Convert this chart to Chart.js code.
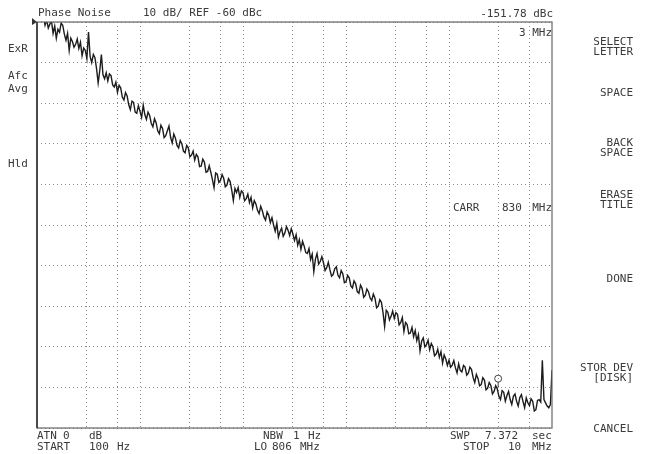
<!DOCTYPE html>
<html>
<head>
<meta charset="utf-8">
<script src="https://cdn.jsdelivr.net/npm/chart.js@4/dist/chart.umd.min.js"></script>
<style>
  html, body { margin: 0; padding: 0; background: #ffffff; }
  canvas { display: block; }
</style>
</head>
<body>
<canvas id="pnChart" width="645" height="454"></canvas>
<script>
// analyzer sweep: 64 log-spaced points per decade, 100 Hz .. 10 MHz
const decadeStartHz = [100, 1000, 10000, 100000, 1000000];
const sweepMantissa = [
  1.000, 1.037, 1.075, 1.114, 1.155, 1.197, 1.241, 1.287, 1.334, 1.383, 1.433, 1.486, 1.540, 1.596, 1.655, 1.715,
  1.778, 1.843, 1.911, 1.981, 2.054, 2.129, 2.207, 2.288, 2.371, 2.458, 2.548, 2.642, 2.738, 2.839, 2.943, 3.051,
  3.162, 3.278, 3.398, 3.523, 3.652, 3.786, 3.924, 4.068, 4.217, 4.372, 4.532, 4.698, 4.870, 5.048, 5.233, 5.425,
  5.623, 5.829, 6.043, 6.264, 6.494, 6.732, 6.978, 7.234, 7.499, 7.774, 8.058, 8.354, 8.660, 8.977, 9.306, 9.647
];
const stopHz = 10000000;

// phase noise (dBc/Hz), one row per decade
const noiseDbc100Hz = [
  -56.0, -58.0, -57.5, -59.0, -58.5, -60.8, -59.5, -61.5, -60.5, -59.8, -62.8, -61.0, -64.0, -61.8, -62.5, -60.3,
  -60.8, -63.0, -64.5, -62.8, -67.0, -64.0, -64.8, -66.2, -65.5, -64.2, -66.5, -65.0, -68.3, -66.4, -67.0, -69.0,
  -62.5, -68.5, -70.0, -68.0, -68.8, -71.5, -75.0, -72.0, -68.0, -73.0, -74.0, -72.5, -74.5, -72.8, -73.2, -75.5,
  -76.0, -74.8, -77.3, -75.6, -76.2, -78.5, -79.2, -77.4, -78.2, -80.4, -81.6, -79.5, -79.8, -82.2, -82.5, -80.6
];
const noiseDbc1kHz = [
  -82.0, -83.5, -80.5, -82.8, -84.0, -82.2, -83.0, -85.0, -85.8, -83.8, -84.8, -86.8, -87.5, -85.4, -86.2, -88.5,
  -88.0, -86.8, -85.6, -88.4, -89.8, -87.6, -88.6, -90.4, -91.0, -89.2, -90.0, -91.8, -92.2, -90.4, -91.0, -93.2,
  -92.8, -91.8, -94.0, -92.6, -93.2, -95.6, -95.5, -93.8, -94.5, -97.0, -96.8, -95.4, -97.0, -98.8, -100.8, -97.2,
  -97.5, -99.5, -99.0, -97.6, -98.5, -100.6, -100.2, -98.6, -99.3, -101.4, -104.0, -101.0, -102.0, -100.8, -103.2, -101.6
];
const noiseDbc10kHz = [
  -102.0, -104.0, -103.5, -102.4, -104.5, -103.2, -105.8, -104.0, -104.8, -106.4, -107.2, -105.4, -106.5, -108.0, -108.8, -106.8,
  -107.6, -109.4, -108.2, -110.0, -111.5, -109.6, -113.0, -111.6, -110.8, -112.8, -112.0, -110.4, -111.3, -112.6, -110.9, -112.2,
  -113.8, -112.4, -115.0, -113.6, -116.0, -114.0, -115.2, -116.8, -117.0, -115.8, -118.5, -117.2, -121.5, -118.4, -117.0, -119.6,
  -119.0, -117.8, -119.3, -121.2, -120.5, -119.2, -121.0, -122.6, -122.2, -120.8, -120.3, -122.4, -123.0, -121.2, -122.0, -124.2
];
const noiseDbc100kHz = [
  -124.0, -122.4, -123.0, -125.0, -125.5, -123.8, -124.5, -126.4, -126.8, -124.8, -125.6, -127.8, -127.3, -125.8, -126.5, -128.0,
  -128.6, -127.0, -128.0, -130.4, -130.0, -128.4, -129.0, -131.6, -135.0, -131.0, -131.5, -133.4, -132.5, -131.2, -133.0, -131.6,
  -132.0, -134.6, -134.0, -132.8, -136.2, -134.0, -134.5, -136.8, -136.6, -135.2, -137.5, -136.0, -138.5, -137.0, -141.0, -138.6,
  -137.8, -140.0, -139.5, -138.4, -140.7, -139.2, -140.0, -142.2, -141.8, -140.6, -142.6, -141.2, -144.0, -142.0, -143.0, -144.6
];
const noiseDbc1MHz = [
  -143.3, -145.0, -144.5, -143.4, -145.2, -146.4, -144.2, -145.8, -146.2, -144.6, -145.0, -147.0, -146.5, -145.0, -145.6, -147.6,
  -148.8, -146.8, -147.8, -149.6, -149.3, -147.6, -148.2, -150.6, -150.2, -148.8, -149.5, -151.6, -151.0, -149.6, -150.4, -152.2,
  -153.0, -150.8, -151.2, -153.4, -152.0, -151.0, -153.0, -154.2, -152.2, -151.6, -153.4, -154.6, -152.5, -151.8, -153.5, -155.0,
  -152.6, -153.8, -154.5, -152.8, -153.4, -155.8, -155.5, -153.2, -153.0, -153.6, -143.3, -153.0, -153.8, -154.6, -155.0, -154.2
];
const noiseDbcStop = -145.7;

// vertical grid positions and screen range
const gridHz = [300, 600, 1000, 3000, 6000, 10000, 30000, 60000, 100000, 300000, 600000, 1000000, 3000000, 6000000];
const refDbc = -60;
const bottomDbc = -160;
const dbPerDiv = 10;

// marker
const markerHz = 3000000;
const markerDbc = -151.78;

const sweepHz = decadeStartHz.flatMap(d => sweepMantissa.map(m => d * m)).concat([stopHz]);
const noiseDbc = [].concat(noiseDbc100Hz, noiseDbc1kHz, noiseDbc10kHz, noiseDbc100kHz, noiseDbc1MHz, [noiseDbcStop]);

const FONT = '11px "DejaVu Sans Mono", monospace';
const INK = '#3a3a3a';

const screenText = {
    id: 'screenText',
    afterDraw(chart) {
        const ctx = chart.ctx;
        const a = chart.chartArea;
        const xs = chart.scales.x, ys = chart.scales.y;
        ctx.save();

        // frame
        ctx.strokeStyle = '#666';
        ctx.lineWidth = 1.2;
        ctx.strokeRect(a.left, a.top, a.right - a.left, a.bottom - a.top);
        ctx.strokeStyle = '#4a4a4a';
        ctx.lineWidth = 2;
        ctx.beginPath();
        ctx.moveTo(a.left, a.top); ctx.lineTo(a.left, a.bottom);
        ctx.stroke();

        // reference level arrow
        ctx.fillStyle = '#333';
        ctx.beginPath();
        ctx.moveTo(a.left - 5, a.top - 4);
        ctx.lineTo(a.left, a.top);
        ctx.lineTo(a.left - 5, a.top + 3);
        ctx.closePath();
        ctx.fill();

        // marker circle, sits just above the trace
        const mx = xs.getPixelForValue(markerHz);
        const my = ys.getPixelForValue(markerDbc);
        ctx.strokeStyle = '#444';
        ctx.lineWidth = 1;
        ctx.beginPath();
        ctx.arc(mx, my - 16, 3.5, 0, Math.PI * 2);
        ctx.stroke();
        ctx.beginPath();
        ctx.moveTo(mx, my - 12.5); ctx.lineTo(mx, my - 7);
        ctx.stroke();

        ctx.font = FONT;
        ctx.fillStyle = INK;
        ctx.textBaseline = 'middle';
        const t = (s, x, y, al) => { ctx.textAlign = al || 'left'; ctx.fillText(s, x, y); };

        t('Phase Noise', 38, 13);
        t('10 dB/ REF ' + refDbc + ' dBc', 143, 13);
        t(markerDbc.toFixed(2) + ' dBc', 553, 14, 'right');
        t('3 MHz', 552, 33, 'right');
        t('CARR', 453, 208);
        t('830', 502, 208);
        t('MHz', 552, 208, 'right');

        t('ExR', 8, 49);
        t('Afc', 8, 76);
        t('Avg', 8, 89);
        t('Hld', 8, 164);

        t('ATN', 37, 436); t('0', 63, 436); t('dB', 89, 436);
        t('START', 37, 447); t('100', 89, 447); t('Hz', 117, 447);
        t('NBW', 263, 436); t('1', 293, 436); t('Hz', 308, 436);
        t('LO', 254, 447); t('806', 272, 447); t('MHz', 300, 447);
        t('SWP', 450, 436); t('7.372', 485, 436); t('sec', 532, 436);
        t('STOP', 463, 447); t('10', 508, 447); t('MHz', 532, 447);

        // softkeys
        const kx = 633;
        t('SELECT', kx, 42, 'right'); t('LETTER', kx, 52, 'right');
        t('SPACE', kx, 93, 'right');
        t('BACK', kx, 143, 'right'); t('SPACE', kx, 153, 'right');
        t('ERASE', kx, 195, 'right'); t('TITLE', kx, 205, 'right');
        t('DONE', kx, 279, 'right');
        t('STOR DEV', kx, 368, 'right'); t('[DISK]', kx, 378, 'right');
        t('CANCEL', kx, 429, 'right');
        ctx.restore();
    }
};

const ctx = document.getElementById('pnChart').getContext('2d');
new Chart(ctx, {
    type: 'line',
    data: {
        datasets: [{
            label: 'Phase Noise',
            data: sweepHz.map((f, i) => ({ x: f, y: noiseDbc[i] })),
            borderColor: '#1c1c1c',
            borderWidth: 1.4,
            pointRadius: 0,
            tension: 0,
            fill: false
        }]
    },
    options: {
        responsive: false,
        animation: false,
        devicePixelRatio: 1,
        layout: { padding: { left: 37, top: 22, right: 93, bottom: 26 } },
        plugins: {
            legend: { display: false },
            tooltip: { enabled: false }
        },
        scales: {
            x: {
                type: 'logarithmic',
                min: decadeStartHz[0],
                max: stopHz,
                afterBuildTicks: (scale) => { scale.ticks = gridHz.map(v => ({ value: v })); },
                ticks: { display: false },
                border: { display: false, dash: [1, 3] },
                grid: { color: '#8c8c8c', lineWidth: 1, drawTicks: false }
            },
            y: {
                min: bottomDbc,
                max: refDbc,
                ticks: { display: false, stepSize: dbPerDiv },
                border: { display: false, dash: [1, 3] },
                grid: { color: '#8c8c8c', lineWidth: 1, drawTicks: false }
            }
        }
    },
    plugins: [screenText]
});
</script>
</body>
</html>
